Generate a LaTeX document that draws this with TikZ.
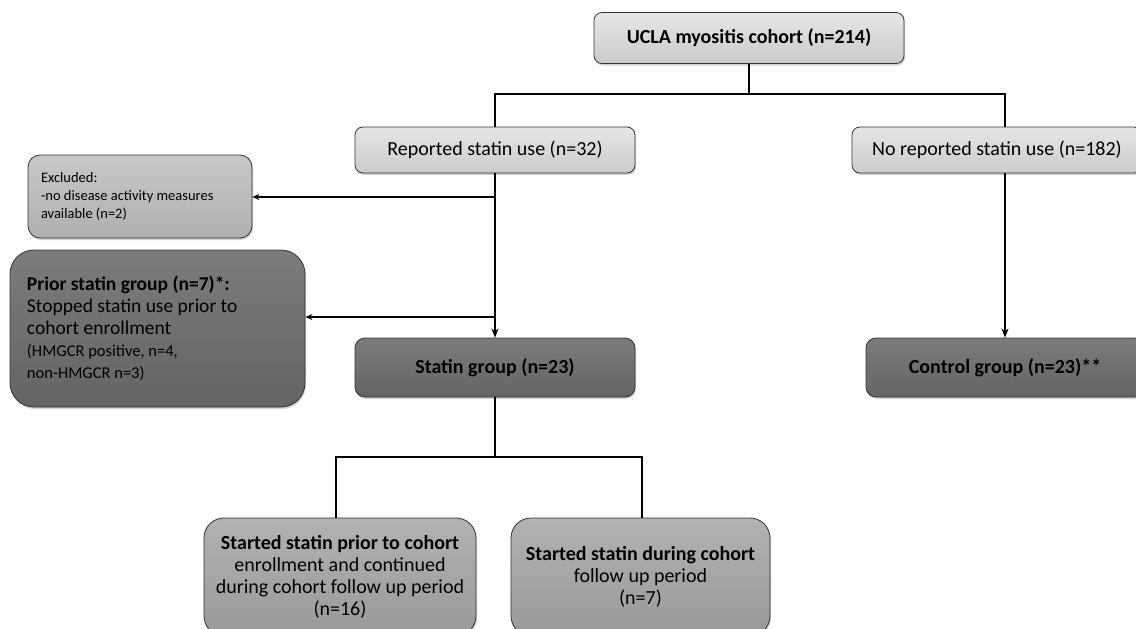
\documentclass[tikz,border=0pt]{standalone}
\usepackage{fontspec}
\setmainfont{Carlito}
\usetikzlibrary{arrows.meta,shadows}
\definecolor{lightT}{HTML}{E6E6E6}
\definecolor{lightB}{HTML}{CBCBCB}
\definecolor{exclT}{HTML}{C8C8C8}
\definecolor{exclB}{HTML}{B0B0B0}
\definecolor{midT}{HTML}{B2B2B2}
\definecolor{midB}{HTML}{999999}
\definecolor{darkT}{HTML}{7C7C7C}
\definecolor{darkB}{HTML}{646464}
\begin{document}
\begin{tikzpicture}[x=1pt,y=-1pt,
  box/.style={draw=black!80,line width=0.8pt,inner sep=0pt,
    drop shadow={opacity=0.35,shadow xshift=1pt,shadow yshift=-2pt}},
  lightbox/.style={box,top color=lightT,bottom color=lightB,rounded corners=8pt,align=flush center,
    font=\fontsize{20}{22}\selectfont\frenchspacing},
  exclbox/.style={box,top color=exclT,bottom color=exclB,rounded corners=12pt,align=flush left,
    font=\fontsize{14.5}{18}\selectfont\frenchspacing},
  darkbox/.style={box,top color=darkT,bottom color=darkB,rounded corners=10pt,align=flush center,
    font=\fontsize{20}{22}\selectfont\bfseries\frenchspacing},
  priorbox/.style={box,top color=darkT,bottom color=darkB,rounded corners=24pt,align=flush left,
    font=\fontsize{19.5}{22}\selectfont\frenchspacing},
  midbox/.style={box,top color=midT,bottom color=midB,rounded corners=20pt,align=flush center,
    font=\fontsize{20}{22}\selectfont\frenchspacing},
  heavy/.style={line width=2.4pt},
  light/.style={line width=1.2pt},
  tip/.style={-{Stealth[length=9pt,width=7pt]}},
  smalltip/.style={-{Stealth[length=7pt,width=6pt]}}
]
\useasboundingbox (0,0) rectangle (1136,629);
\clip (0,0) rectangle (1136,629);

% nodes
\node[lightbox,minimum width=310pt,minimum height=51pt] (ucla) at (749,38)
  {\bfseries UCLA myositis cohort (n=214)};
\node[lightbox,minimum width=280pt,minimum height=46pt] (rep) at (495,150)
  {Reported statin use (n=32)};
\node[lightbox,minimum width=290pt,minimum height=46pt] (norep) at (997,150)
  {No reported statin use (n=182)};
\node[exclbox,minimum width=224pt,minimum height=83pt,text width=198pt] (excl) at (140,196.5)
  {Excluded:\\-no disease activity measures\\available (n=2)};
\node[priorbox,minimum width=295pt,minimum height=157pt,text width=261pt] (prior) at (157.5,328.5)
  {{\fontsize{19.5}{22}\selectfont\bfseries Prior statin group (n=7)*:}\\Stopped statin use prior to\\cohort enrollment\\
   {\fontsize{16.5}{21}\selectfont (HMGCR positive, n=4,}\\{\fontsize{16.5}{21}\selectfont non-HMGCR n=3)}};
\node[darkbox,minimum width=280pt,minimum height=59pt] (statin) at (495,367.5)
  {Statin group (n=23)};
\node[darkbox,minimum width=278pt,minimum height=59pt] (control) at (1005,367.5)
  {Control group (n=23)**};
\node[midbox,minimum width=272pt,minimum height=118pt] (b1) at (340,577)
  {\textbf{Started statin prior to cohort}\\enrollment and continued\\during cohort follow up period\\(n=16)};
\node[midbox,minimum width=259pt,minimum height=118pt] (b2) at (640.5,577)
  {\textbf{Started statin during cohort}\\follow up period\\(n=7)};

% junction points
\coordinate (j) at (749,94);
\coordinate (jr) at (1005,94);
\coordinate (ea) at (495,197);
\coordinate (pa) at (495,317);
\coordinate (s) at (495,457);
\coordinate (sl) at (336,457);
\coordinate (sr) at (642,457);

% connectors
\draw[heavy] (ucla.south) -- (j);
\draw[heavy] (rep.north) |- (j) -- (jr) -- (jr |- norep.north);
\draw[heavy,tip] (rep.south) -- (statin.north);
\draw[heavy,tip] (jr |- norep.south) -- (jr |- control.north);
\draw[light,smalltip] (ea) -- (excl.east |- ea);
\draw[light,smalltip] (pa) -- (prior.east |- pa);
\draw[light] (statin.south) -- (s);
\draw[light] (sl |- b1.north) -- (sl) -- (sr) -- (sr |- b2.north);
\end{tikzpicture}
\end{document}
